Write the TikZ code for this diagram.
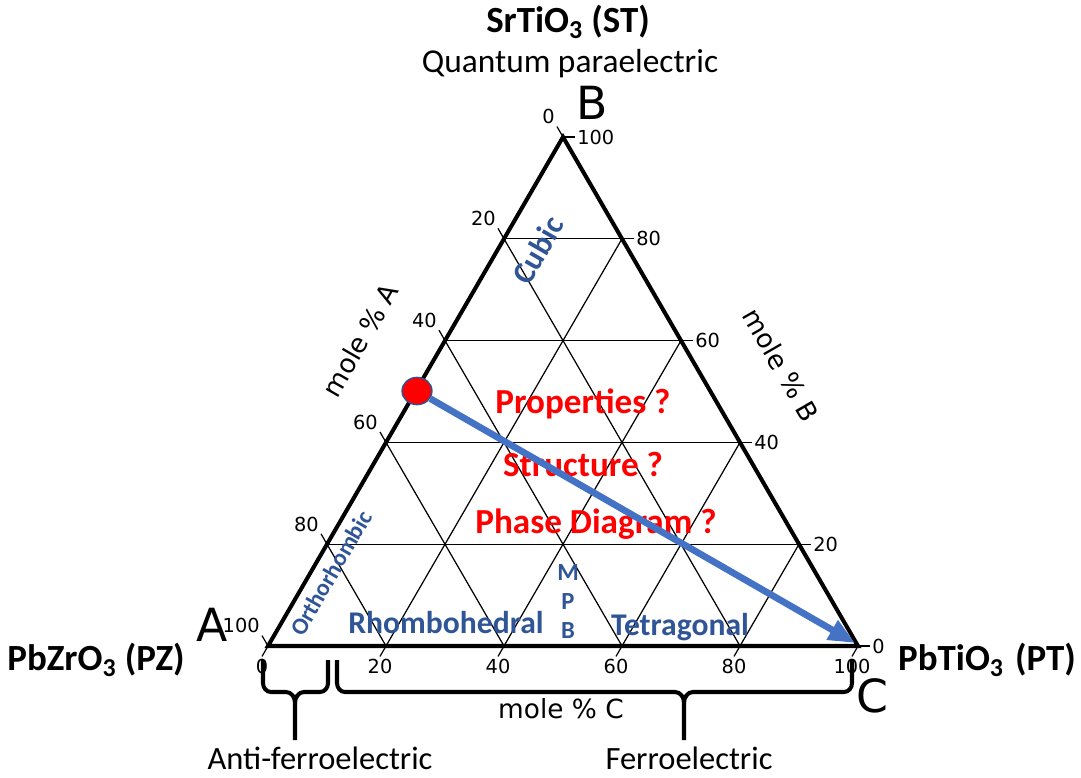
\documentclass[tikz,border=0pt]{standalone}
\usepackage{fontspec}
\setmainfont{Carlito}
\newfontfamily\dejavu{DejaVu Sans}
\usetikzlibrary{arrows.meta,shapes.geometric}
\definecolor{phaseblue}{RGB}{47,85,151}
\definecolor{arrblue}{RGB}{68,114,196}
\definecolor{rimblue}{RGB}{47,82,143}

\begin{document}
\begin{tikzpicture}[x=0.02cm,y=-0.02cm,
  edge/.style={line width=2.3pt,line join=miter},
  grid/.style={line width=0.7pt},
  brace/.style={line width=2.3pt},
  lbl/.style={font=\dejavu\fontsize{11}{13}\selectfont,inner sep=1pt},
  axis/.style={font=\dejavu\fontsize{15}{18}\selectfont},
  corner/.style={font=\dejavu\fontsize{26}{30}\selectfont},
  title/.style={font=\fontsize{21}{25}\selectfont\bfseries},
  plain/.style={font=\fontsize{19}{23}\selectfont},
  phase/.style={text=phaseblue,font=\fontsize{18}{22}\selectfont\bfseries},
  quest/.style={text=red,font=\fontsize{20}{24}\selectfont\bfseries},
  dot/.style={ellipse,fill=red,draw=rimblue,line width=0.8pt,minimum width=17pt,minimum height=15.5pt,inner sep=0pt},
  arr/.style={-{Triangle[length=15pt,width=12pt]},line width=3.8pt,color=arrblue}
]
\useasboundingbox (0,0) rectangle (1081,777);

\coordinate (A) at (268,646);
\coordinate (B) at (563,137);
\coordinate (C) at (858,646);

% grid
\draw[grid] (504,238.8) -- (622,238.8) (445,340.6) -- (681,340.6) (386,442.4) -- (740,442.4) (327,544.2) -- (799,544.2);
\draw[grid] (504,238.8) -- (740,646) (445,340.6) -- (622,646) (386,442.4) -- (504,646) (327,544.2) -- (386,646);
\draw[grid] (386,646) -- (622,238.8) (504,646) -- (681,340.6) (622,646) -- (740,442.4) (740,646) -- (799,544.2);

% ticks, mole % A
\draw[grid] (B) -- ++(-6,-10.4) node[lbl,anchor=south east] (ta0) {0};
\draw[grid] (504,238.8) -- ++(-6,-10.4) node[lbl,anchor=south east] (ta20) {20};
\draw[grid] (445,340.6) -- ++(-6,-10.4) node[lbl,anchor=south east] (ta40) {40};
\draw[grid] (386,442.4) -- ++(-6,-10.4) node[lbl,anchor=south east] (ta60) {60};
\draw[grid] (327,544.2) -- ++(-6,-10.4) node[lbl,anchor=south east] (ta80) {80};
\draw[grid] (A) -- ++(-6,-10.4) node[lbl,anchor=south east] (ta100) {100};
% ticks, mole % B
\draw[grid] (B) -- ++(12,0) node[lbl,anchor=west] (tb100) {100};
\draw[grid] (622,238.8) -- ++(12,0) node[lbl,anchor=west] (tb80) {80};
\draw[grid] (681,340.6) -- ++(12,0) node[lbl,anchor=west] (tb60) {60};
\draw[grid] (740,442.4) -- ++(12,0) node[lbl,anchor=west] (tb40) {40};
\draw[grid] (799,544.2) -- ++(12,0) node[lbl,anchor=west] (tb20) {20};
\draw[grid] (C) -- ++(12,0) node[lbl,anchor=west] (tb0) {0};
% ticks, mole % C
\draw[grid] (A) -- ++(-6,10.4) node[lbl,anchor=north] (tc0) {0};
\draw[grid] (386,646) -- ++(-6,10.4) node[lbl,anchor=north] (tc20) {20};
\draw[grid] (504,646) -- ++(-6,10.4) node[lbl,anchor=north] (tc40) {40};
\draw[grid] (622,646) -- ++(-6,10.4) node[lbl,anchor=north] (tc60) {60};
\draw[grid] (740,646) -- ++(-6,10.4) node[lbl,anchor=north] (tc80) {80};
\draw[grid] (C) -- ++(-6,10.4) node[lbl,anchor=north] (tc100) {100};

\draw[edge] (A) -- (B) -- (C) -- cycle;

% corners and axes
\node[title] (st) at (568,22) {SrTiO\textsubscript{3} (ST)};
\node[plain] (qp) at (570,64) {Quantum paraelectric};
\node[corner] (lb) at (592,103) {B};
\node[corner] (la) at (212,625) {A};
\node[corner] (lc) at (872,696) {C};
\node[title] (pz) at (96,660) {PbZrO\textsubscript{3} (PZ)};
\node[title] (ptn) at (987,660) {PbTiO\textsubscript{3}\hspace{0.3em}(PT)};
\node[axis,rotate=60] (ma) at (360,340) {mole \% A};
\node[axis,rotate=-60] (mb) at (781,365) {mole \% B};
\node[axis] (mc) at (561,709) {mole \% C};

% phases
\node[phase,rotate=60] (cub) at (538,250) {Cubic};
\node[phase,rotate=60,font=\fontsize{13.5}{16}\selectfont\bfseries] (orth) at (331,573) {Orthorhombic};
\node[phase] (rho) at (446,623) {Rhombohedral};
\node[phase] (tet) at (680,627) {Tetragonal};
\node[phase,font=\fontsize{14}{15}\selectfont\bfseries,align=center] (mpb) at (568,602) {M\\[1.5pt]P\\[1.5pt]B};

\node[quest] (prop) at (583,404) {Properties ?};
\node[quest] (stru) at (583,464) {Structure ?};
\node[quest] (pd) at (596,524) {Phase Diagram ?};

% composition path
\node[dot] (mix) at (417,391) {};
\coordinate (end) at (855,643);
\draw[arr] (mix) -- (end);

% braces
\draw[brace] (263,660) -- (263,683) to[out=-90,in=180] (271,692) -- (286,692) to[out=0,in=90] (295,703) -- (295,740);
\draw[brace] (328,660) -- (328,683) to[out=-90,in=0] (320,692) -- (304,692) to[out=180,in=90] (295,703);
\draw[brace] (337,660) -- (337,683) to[out=-90,in=180] (345,692) -- (675,692) to[out=0,in=90] (684,703) -- (684,740);
\draw[brace] (852,660) -- (852,683) to[out=-90,in=0] (844,692) -- (693,692) to[out=180,in=90] (684,703);
\node[plain,font=\fontsize{18.5}{22}\selectfont] (afe) at (320,758) {Anti-ferroelectric};
\node[plain,font=\fontsize{18.5}{22}\selectfont] (fe) at (689,758) {Ferroelectric};
\end{tikzpicture}
\end{document}
